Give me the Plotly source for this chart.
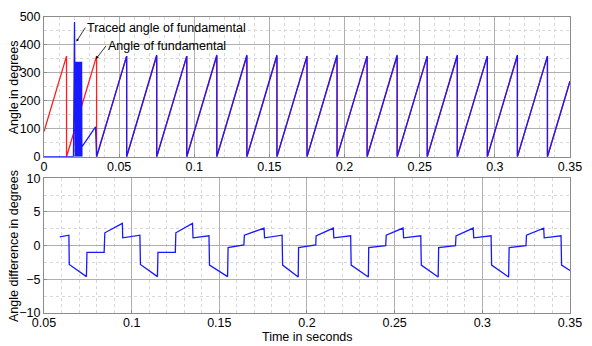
import plotly.graph_objects as go

# ---- top panel: angle of fundamental (red) ----
red_t = [0, 0.015, 0.015, 0.035, 0.035, 0.055, 0.055, 0.075, 0.075, 0.095, 0.095,
         0.115, 0.115, 0.135, 0.135, 0.155, 0.155, 0.175, 0.175, 0.195, 0.195,
         0.215, 0.215, 0.235, 0.235, 0.255, 0.255, 0.275, 0.275, 0.295, 0.295,
         0.315, 0.315, 0.335, 0.335, 0.35]
red_v = [90, 360, 0, 360, 0, 360, 0, 360, 0, 360, 0,
         360, 0, 360, 0, 360, 0, 360, 0, 360, 0,
         360, 0, 360, 0, 360, 0, 360, 0, 360, 0,
         360, 0, 360, 0, 270]

# ---- top panel: traced angle of fundamental (blue) ----
blue_t = [0, 0.0196, 0.0203, 0.0204,
          0.0206, 0.0208, 0.0210, 0.0212, 0.0214, 0.0216, 0.0218, 0.0220,
          0.0222, 0.0224, 0.0226, 0.0228, 0.0230, 0.0232, 0.0234, 0.0236,
          0.0238, 0.0240, 0.0242, 0.0244, 0.0246, 0.0248, 0.0250, 0.0252,
          0.0252, 0.0343, 0.0350,
          0.055, 0.055, 0.075, 0.075, 0.095, 0.095, 0.115, 0.115, 0.135, 0.135,
          0.155, 0.155, 0.175, 0.175, 0.195, 0.195, 0.215, 0.215, 0.235, 0.235,
          0.255, 0.255, 0.275, 0.275, 0.295, 0.295, 0.315, 0.315, 0.335, 0.335,
          0.35]
blue_v = [0, 0, 482, 0,
          340, 0, 340, 0, 340, 0, 340, 0,
          340, 0, 340, 0, 340, 0, 340, 0,
          340, 0, 340, 0, 340, 0, 340, 0,
          35, 107, 0,
          360, 0, 364, 0, 360, 0, 364, 0, 364, 0,
          364, 0, 360, 0, 364, 0, 360, 0, 364, 0,
          360, 0, 364, 0, 360, 0, 364, 0, 360, 0,
          270]

# ---- bottom panel: angle difference ----
diff_t = [0.0590, 0.0642, 0.0644, 0.0742, 0.0745, 0.0843, 0.0847, 0.0947, 0.0949,
          0.1047, 0.1050, 0.1147, 0.1150, 0.1249, 0.1252, 0.1347, 0.1350,
          0.1441, 0.1444, 0.1547, 0.1550, 0.1640, 0.1643, 0.1755, 0.1758,
          0.1858, 0.1861, 0.1950, 0.1952, 0.2050, 0.2052, 0.2150, 0.2153,
          0.2249, 0.2252, 0.2350, 0.2352, 0.2449, 0.2452, 0.2548, 0.2551,
          0.2649, 0.2652, 0.2748, 0.2751, 0.2847, 0.2850, 0.2948, 0.2951,
          0.3050, 0.3053, 0.3150, 0.3153, 0.3249, 0.3252, 0.3350, 0.3353,
          0.3449, 0.3452, 0.3500]
diff_v = [1.3, 1.54, -2.8, -4.6, -1.0, -1.0, 1.9, 3.3, 1.15,
          1.54, -2.8, -4.6, -1.0, -1.0, 1.9, 3.3, 1.15,
          1.45, -2.9, -4.6, -0.3, 0.1, 1.54, 2.6, 1.15,
          1.54, -2.9, -4.66, -0.3, 0.1, 1.45, 2.6, 1.15,
          1.45, -2.9, -4.66, -0.3, 0.0, 1.55, 2.6, 1.15,
          1.45, -2.9, -4.66, -0.3, 0.0, 1.45, 2.6, 1.15,
          1.45, -2.9, -4.66, -0.3, 0.0, 1.55, 2.6, 1.15,
          1.45, -2.9, -3.7]

top_xticks = [0, 0.05, 0.1, 0.15, 0.2, 0.25, 0.3, 0.35]
top_xlabels = ["0", "0.05", "0.1", "0.15", "0.2", "0.25", "0.3", "0.35"]
bot_xticks = [0.05, 0.1, 0.15, 0.2, 0.25, 0.3, 0.35]
bot_xlabels = ["0.05", "0.1", "0.15", "0.2", "0.25", "0.3", "0.35"]

RED = "rgb(255,30,30)"
BLUE = "rgb(25,25,255)"
FONT = "Liberation Sans, Arial, sans-serif"

fig = go.Figure()
fig.add_trace(go.Scatter(x=red_t, y=red_v, mode="lines", line=dict(color=RED, width=1.3),
                         xaxis="x", yaxis="y", showlegend=False))
fig.add_trace(go.Scatter(x=blue_t, y=blue_v, mode="lines", line=dict(color=BLUE, width=1.3),
                         xaxis="x", yaxis="y", showlegend=False))
fig.add_trace(go.Scatter(x=diff_t, y=diff_v, mode="lines", line=dict(color=BLUE, width=1.3),
                         xaxis="x2", yaxis="y2", showlegend=False))

major = "rgb(175,175,175)"
minor = dict(showgrid=True, gridcolor="rgb(215,215,215)", griddash="dot", gridwidth=1)
common = dict(showline=True, linecolor="rgb(140,140,140)", linewidth=1, mirror=True,
              showgrid=True, gridcolor=major, gridwidth=1, zeroline=False,
              ticks="inside", ticklen=3, tickcolor="rgb(140,140,140)",
              ticklabeloverflow="allow",
              tickfont=dict(family=FONT, size=12.5, color="black"))

fig.update_layout(
    width=592, height=346,
    margin=dict(l=44, r=12, t=10, b=33),
    paper_bgcolor="white", plot_bgcolor="white",
    font=dict(family=FONT, size=12.5, color="black"),
    xaxis=dict(domain=[0, 1], range=[0, 0.35001], anchor="y", tickvals=top_xticks,
               ticktext=top_xlabels, ticklabelstandoff=-2,
               minor=dict(dtick=0.01, tick0=0, **minor), **common),
    yaxis=dict(domain=[0.528, 1], range=[0, 500], anchor="x", dtick=100,
               minor=dict(dtick=50, **minor), **common),
    xaxis2=dict(domain=[0, 1], range=[0.05, 0.35001], anchor="y2", tickvals=bot_xticks,
                ticktext=bot_xlabels, ticklabelstandoff=-2,
                minor=dict(dtick=0.01, tick0=0.05, **minor), **common),
    yaxis2=dict(domain=[0, 0.4554], range=[-10, 10], anchor="x2", dtick=5,
                minor=dict(dtick=2.5, **minor), **common),
)

fig.add_annotation(xref="paper", yref="paper", x=-0.058, y=0.764, text="Angle in degrees",
                   textangle=-90, showarrow=False, xanchor="center", yanchor="middle",
                   font=dict(size=12.5, family=FONT))
fig.add_annotation(xref="paper", yref="paper", x=-0.058, y=0.228,
                   text="Angle difference in degrees", xanchor="center", yanchor="middle",
                   textangle=-90, showarrow=False, font=dict(size=12.5, family=FONT))
fig.add_annotation(xref="paper", yref="paper", x=0.5, y=-0.08, yanchor="middle",
                   text="Time in seconds", showarrow=False, font=dict(size=12.5, family=FONT))

fig.add_annotation(x=0.02155, y=412, xref="x", yref="y", ax=9, ay=-14,
                   text="Traced angle of fundamental", showarrow=True, arrowhead=2,
                   arrowsize=0.7, arrowwidth=0.8, arrowcolor="black", xanchor="left",
                   yanchor="middle", font=dict(size=12.5, family=FONT), standoff=0)
fig.add_annotation(x=0.0346, y=350, xref="x", yref="y", ax=10, ay=-13,
                   text="Angle of fundamental", showarrow=True, arrowhead=2,
                   arrowsize=0.7, arrowwidth=0.8, arrowcolor="black", xanchor="left",
                   yanchor="middle", font=dict(size=12.5, family=FONT), standoff=0)

fig.write_html("out.html")
